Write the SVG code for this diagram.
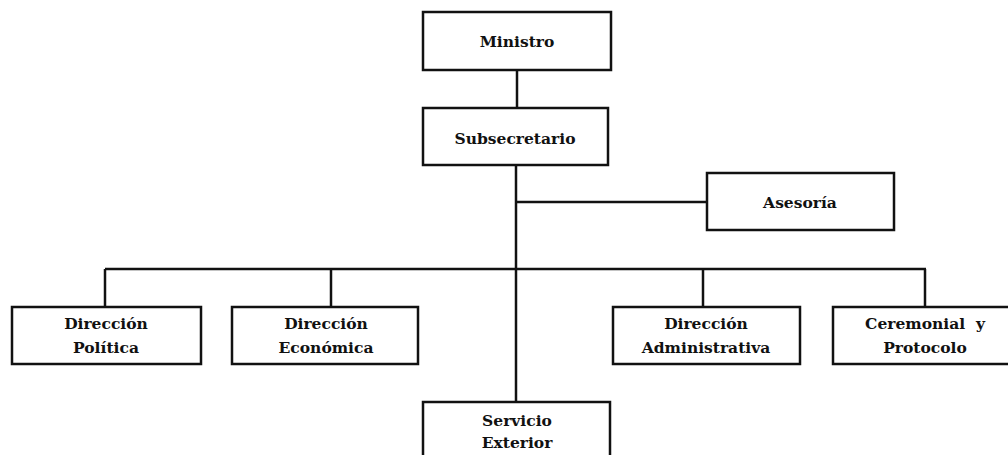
<svg xmlns="http://www.w3.org/2000/svg" width="1008" height="455" viewBox="0 0 1008 455">
<style>
.box{fill:#fff;stroke:#111;stroke-width:2.5}
.ln{stroke:#111;stroke-width:2.5;fill:none}
text{font-family:"DejaVu Serif","Liberation Serif",serif;font-weight:bold;font-size:15.5px;fill:#111;text-anchor:middle}
</style>
<rect width="1008" height="455" fill="#fff"/>
<g id="connectors">
<line class="ln" x1="517" y1="70" x2="517" y2="108"/>
<line class="ln" x1="516" y1="165" x2="516" y2="402"/>
<line class="ln" x1="516" y1="202" x2="707" y2="202"/>
<line class="ln" x1="105" y1="269" x2="926" y2="269"/>
<line class="ln" x1="105" y1="269" x2="105" y2="307"/>
<line class="ln" x1="331" y1="269" x2="331" y2="307"/>
<line class="ln" x1="703" y1="269" x2="703" y2="307"/>
<line class="ln" x1="925" y1="269" x2="925" y2="307"/>
</g>
<g id="ministro"><rect class="box" x="423" y="12" width="188" height="58"/><text x="517" y="47">Ministro</text></g>
<g id="subsecretario"><rect class="box" x="423" y="108" width="185" height="57"/><text x="515" y="144">Subsecretario</text></g>
<g id="asesoria"><rect class="box" x="707" y="173" width="187" height="57"/><text x="800" y="208">Asesoría</text></g>
<g id="politica"><rect class="box" x="12" y="307" width="189" height="57"/><text x="106" y="329">Dirección</text><text x="106" y="353">Política</text></g>
<g id="economica"><rect class="box" x="232" y="307" width="186" height="57"/><text x="326" y="329">Dirección</text><text x="326" y="353">Económica</text></g>
<g id="administrativa"><rect class="box" x="613" y="307" width="187" height="57"/><text x="706" y="329">Dirección</text><text x="706" y="353">Administrativa</text></g>
<g id="ceremonial"><rect class="box" x="833" y="307" width="185" height="57"/><text x="925" y="329" xml:space="preserve">Ceremonial  y</text><text x="925" y="353">Protocolo</text></g>
<g id="servicio"><rect class="box" x="423" y="402" width="187" height="60"/><text x="517" y="426">Servicio</text><text x="517" y="448">Exterior</text></g>
</svg>
